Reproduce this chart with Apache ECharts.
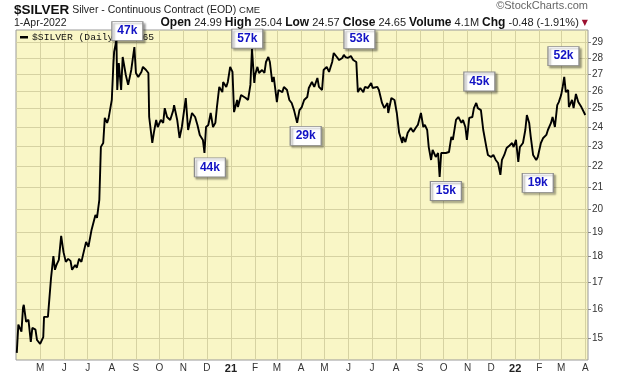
<!DOCTYPE html>
<html>
<head>
<meta charset="utf-8">
<script src="https://cdn.jsdelivr.net/npm/echarts@6/dist/echarts.min.js"></script>
<style>
  html, body { margin: 0; padding: 0; background: #fff; }
  #chart { width: 620px; height: 376px; }
</style>
</head>
<body>
<div id="chart"></div>
<script>
const dates = [
  '2020-04-01','2020-04-03','2020-04-07','2020-04-09','2020-04-10','2020-04-13','2020-04-16','2020-04-19','2020-04-21','2020-04-25','2020-04-27',
  '2020-05-01','2020-05-05','2020-05-06','2020-05-11','2020-05-15','2020-05-18','2020-05-20','2020-05-22','2020-05-25','2020-05-28','2020-05-31',
  '2020-06-03','2020-06-06','2020-06-09','2020-06-11','2020-06-15','2020-06-17','2020-06-20','2020-06-23','2020-06-25','2020-06-29',
  '2020-07-02','2020-07-06','2020-07-08','2020-07-11','2020-07-13','2020-07-16','2020-07-18','2020-07-21','2020-07-23','2020-07-26','2020-07-28',
  '2020-08-01','2020-08-03','2020-08-04','2020-08-07','2020-08-08','2020-08-10','2020-08-13','2020-08-15','2020-08-19','2020-08-22','2020-08-26','2020-08-30',
  '2020-09-01','2020-09-04','2020-09-08','2020-09-10','2020-09-14','2020-09-17','2020-09-18','2020-09-22','2020-09-24','2020-09-27','2020-09-29',
  '2020-10-03','2020-10-06','2020-10-08','2020-10-11','2020-10-15','2020-10-19','2020-10-20','2020-10-24','2020-10-27','2020-10-30',
  '2020-11-04','2020-11-07','2020-11-12','2020-11-16','2020-11-19','2020-11-22','2020-11-26','2020-11-28','2020-11-30',
  '2020-12-03','2020-12-06','2020-12-09','2020-12-12','2020-12-14','2020-12-17','2020-12-21','2020-12-22','2020-12-26','2020-12-28','2020-12-31',
  '2021-01-03','2021-01-05','2021-01-09','2021-01-10','2021-01-14','2021-01-16','2021-01-20','2021-01-23','2021-01-26','2021-01-28','2021-01-31',
  '2021-02-01','2021-02-04','2021-02-06','2021-02-10','2021-02-13','2021-02-15','2021-02-18','2021-02-20','2021-02-23','2021-02-25',
  '2021-03-01','2021-03-03','2021-03-08','2021-03-10','2021-03-14','2021-03-17','2021-03-20','2021-03-23','2021-03-27','2021-03-30',
  '2021-04-02','2021-04-05','2021-04-09','2021-04-11','2021-04-15','2021-04-18','2021-04-22','2021-04-24','2021-04-28','2021-04-30',
  '2021-05-04','2021-05-07','2021-05-11','2021-05-13','2021-05-17','2021-05-20','2021-05-24','2021-05-26','2021-05-28','2021-05-31',
  '2021-06-04','2021-06-07','2021-06-11','2021-06-13','2021-06-16','2021-06-20','2021-06-22','2021-06-26','2021-06-30',
  '2021-07-02','2021-07-08','2021-07-10','2021-07-14','2021-07-17','2021-07-21','2021-07-22','2021-07-26','2021-07-30',
  '2021-08-02','2021-08-05','2021-08-09','2021-08-10','2021-08-13','2021-08-16','2021-08-20','2021-08-23','2021-08-27','2021-08-29',
  '2021-09-02','2021-09-05','2021-09-07','2021-09-10','2021-09-12','2021-09-15','2021-09-17','2021-09-21','2021-09-24','2021-09-26','2021-09-28','2021-09-30',
  '2021-10-04','2021-10-08','2021-10-11','2021-10-13','2021-10-17','2021-10-20','2021-10-24','2021-10-26','2021-10-29','2021-10-31',
  '2021-11-03','2021-11-07','2021-11-09','2021-11-12','2021-11-14','2021-11-18','2021-11-21','2021-11-25','2021-11-27',
  '2021-12-01','2021-12-04','2021-12-07','2021-12-10','2021-12-13','2021-12-15','2021-12-18','2021-12-21','2021-12-24','2021-12-28','2021-12-30',
  '2022-01-02','2022-01-05','2022-01-07','2022-01-11','2022-01-14','2022-01-16','2022-01-19','2022-01-21','2022-01-24','2022-01-28','2022-01-30',
  '2022-02-03','2022-02-06','2022-02-10','2022-02-12','2022-02-16','2022-02-18','2022-02-21','2022-02-24','2022-02-26',
  '2022-03-01','2022-03-03','2022-03-05','2022-03-07','2022-03-10','2022-03-11','2022-03-15','2022-03-17','2022-03-20','2022-03-23','2022-03-27','2022-03-29',
  '2022-04-01'
];
const prices = [
  14.51,15.45,15.21,16.04,16.15,15.55,15.62,14.87,15.34,15.28,14.93,
  14.80,15.03,15.72,15.72,17.15,18.00,17.46,17.65,17.85,18.83,18.16,
  17.77,17.89,17.81,17.46,17.65,17.54,17.89,17.77,18.04,18.58,
  18.38,19.08,19.00,19.73,19.60,20.40,22.96,23.16,24.49,24.22,24.49,
  25.49,27.56,28.37,29.13,26.06,27.68,26.06,28.05,26.95,26.36,27.25,28.68,
  27.07,26.83,27.13,27.44,27.25,27.07,24.54,23.16,23.69,24.38,24.00,
  24.38,24.22,25.03,24.54,24.38,24.92,25.20,24.38,23.42,24.00,
  25.60,23.84,24.76,24.54,24.11,23.58,23.32,22.65,24.00,
  24.11,24.76,24.00,24.22,25.09,26.24,25.94,26.53,26.24,26.53,27.44,
  27.13,24.81,25.49,25.09,25.77,25.88,25.60,25.49,26.36,28.56,26.47,
  26.95,27.44,27.07,27.25,27.07,27.74,28.05,27.74,26.53,26.83,
  25.37,26.06,25.94,26.24,26.06,25.49,25.32,24.92,24.22,24.92,
  25.09,25.49,25.66,26.18,26.53,26.24,26.77,26.24,26.06,27.25,
  27.44,27.13,27.74,28.30,28.05,27.86,27.99,28.18,28.05,27.99,
  28.11,27.86,27.74,25.94,26.18,25.94,26.24,26.18,26.47,
  26.18,26.24,26.06,25.32,25.03,25.32,24.76,25.60,25.49,
  24.76,23.69,23.16,23.48,23.21,23.69,23.95,23.74,24.00,24.11,
  24.76,24.00,24.11,23.84,22.95,22.30,22.80,22.45,22.65,21.47,22.65,22.55,
  22.65,22.70,23.48,23.32,24.38,24.54,24.22,24.38,24.00,23.32,
  24.49,24.54,25.03,25.32,25.03,24.92,23.84,22.95,22.55,
  22.45,22.55,22.30,22.15,21.57,22.30,22.55,22.90,23.00,23.16,22.95,
  23.32,22.20,22.95,23.16,23.84,24.65,24.22,23.48,22.55,22.30,22.45,
  23.16,23.42,23.58,23.84,24.22,24.54,24.00,25.20,25.37,
  25.77,26.24,26.83,25.94,26.06,25.09,25.49,25.03,25.83,25.37,25.09,25.15,
  24.65
];

const monthTicks = [
  '2020-05-01','2020-06-01','2020-07-01','2020-08-01','2020-09-01','2020-10-01','2020-11-01','2020-12-01',
  '2021-01-01','2021-02-01','2021-03-01','2021-04-01','2021-05-01','2021-06-01','2021-07-01','2021-08-01',
  '2021-09-01','2021-10-01','2021-11-01','2021-12-01','2022-01-01','2022-02-01','2022-03-01','2022-04-01'
];
const monthLabels = ['M','J','J','A','S','O','N','D','21','F','M','A','M','J','J','A','S','O','N','D','22','F','M','A'];
const priceTicks = [15,16,17,18,19,20,21,22,23,24,25,26,27,28,29];

// volume call-outs
const noteLabels = ['47k','57k','53k','44k','29k','45k','15k','19k','52k'];
const noteDates = ['2020-08-21','2021-01-22','2021-06-15','2020-12-05','2021-04-07','2021-11-16','2021-10-04','2022-01-30','2022-03-04'];
const notePrices = [29.72, 29.23, 29.19, 21.93, 23.53, 26.56, 20.81, 21.19, 28.11];

const toTime = s => { const p = s.split('-').map(Number); return Date.UTC(p[0], p[1] - 1, p[2]); };

const labelByTime = {};
monthTicks.forEach((d, i) => { labelByTime[toTime(d)] = monthLabels[i]; });

const chart = echarts.init(document.getElementById('chart'));

const option = {
  animation: false,
  backgroundColor: '#ffffff',
  textStyle: { fontFamily: '"Liberation Sans", Arial, sans-serif' },
  grid: {
    left: 16, right: 32, top: 30, bottom: 16,
    show: true,
    backgroundColor: '#F9F6C6',
    borderColor: '#9a9a9a',
    borderWidth: 1
  },
  xAxis: {
    type: 'value',
    min: toTime('2020-03-31'),
    max: toTime('2022-04-04') + 12 * 3600 * 1000,
    axisLine: { show: false },
    axisTick: { show: false, customValues: monthTicks.map(toTime) },
    axisLabel: {
      customValues: monthTicks.map(toTime),
      hideOverlap: false,
      formatter: v => {
        const s = labelByTime[v] || '';
        return /\d/.test(s) ? '{y|' + s + '}' : s;
      },
      color: '#333',
      fontSize: 10,
      margin: 3,
      rich: { y: { fontWeight: 'bold', fontSize: 11, color: '#222' } }
    },
    splitLine: { show: true, lineStyle: { color: '#D6D2A2', width: 1 } }
  },
  yAxis: {
    type: 'value',
    position: 'right',
    min: Math.log(14.28),
    max: Math.log(29.79),
    axisLine: { show: false },
    axisTick: {
      show: true, length: 3, inside: false,
      customValues: priceTicks.map(Math.log),
      lineStyle: { color: '#888' }
    },
    axisLabel: {
      customValues: priceTicks.map(Math.log),
      formatter: v => String(Math.round(Math.exp(v))),
      color: '#333',
      fontSize: 10,
      margin: 4
    },
    splitLine: { show: true, lineStyle: { color: '#D6D2A2', width: 1 } }
  },
  series: [
    {
      type: 'line',
      data: dates.map((d, i) => [toTime(d), Math.log(prices[i])]),
      symbol: 'none',
      lineStyle: { color: '#000', width: 1.9 },
      z: 3,
      markPoint: {
        symbol: 'rect',
        symbolSize: [31, 19],
        itemStyle: {
          color: '#fff',
          borderColor: '#8c8c8c',
          borderWidth: 1,
          shadowColor: 'rgba(0,0,0,0.35)',
          shadowBlur: 2,
          shadowOffsetX: 2,
          shadowOffsetY: 2
        },
        label: {
          show: true,
          position: 'inside',
          formatter: '{b}',
          color: '#1212c4',
          fontWeight: 'bold',
          fontSize: 12,
          fontFamily: '"Liberation Sans", Arial, sans-serif'
        },
        data: noteLabels.map((t, i) => ({
          name: t,
          coord: [toTime(noteDates[i]), Math.log(notePrices[i])]
        }))
      }
    }
  ],
  graphic: [
    {
      type: 'text', x: 14, y: 10, z: 1,
      style: {
        text: '{a|$SILVER}{b| Silver - Continuous Contract (EOD) }{c|CME}',
        verticalAlign: 'middle',
        rich: {
          a: { fontSize: 13.5, fontWeight: 'bold', fontFamily: '"Liberation Sans", Arial', fill: '#111' },
          b: { fontSize: 10.5, fontFamily: '"Liberation Sans", Arial', fill: '#222' },
          c: { fontSize: 9.5, fontFamily: '"Liberation Sans", Arial', fill: '#222' }
        }
      }
    },
    {
      type: 'text', x: 14, y: 23, z: 1,
      style: { text: '1-Apr-2022', fontSize: 10.5, fontFamily: '"Liberation Sans", Arial', fill: '#222', verticalAlign: 'middle' }
    },
    {
      type: 'text', x: 588, y: 23, z: 1,
      style: {
        text: '{l|Open}{v| 24.99 }{l|High}{v| 25.04 }{l|Low}{v| 24.57 }{l|Close}{v| 24.65 }{l|Volume}{v| 4.1M }{l|Chg}{v| -0.48 (-1.91%) }{r|▼}',
        align: 'right',
        verticalAlign: 'middle',
        rich: {
          l: { fontSize: 12, fontWeight: 'bold', fontFamily: '"Liberation Sans", Arial', fill: '#111' },
          v: { fontSize: 11, fontFamily: '"Liberation Sans", Arial', fill: '#222' },
          r: { fontSize: 8, fontFamily: '"DejaVu Sans"', fill: '#9b1030' }
        }
      }
    },
    {
      type: 'text', x: 588, y: 6, z: 1,
      style: { text: '©StockCharts.com', fontSize: 11, fontFamily: '"Liberation Sans", Arial', fill: '#666', align: 'right', verticalAlign: 'middle' }
    },
    {
      type: 'rect', z: 1,
      shape: { x: 20, y: 36, width: 8, height: 2.5 },
      style: { fill: '#000' }
    },
    {
      type: 'text', x: 32, y: 37.5, z: 1,
      style: { text: '$SILVER (Daily) 24.65', fontSize: 9.7, fontFamily: '"Liberation Mono", monospace', fill: '#111', verticalAlign: 'middle' }
    }
  ]
};

chart.setOption(option);
</script>
</body>
</html>
